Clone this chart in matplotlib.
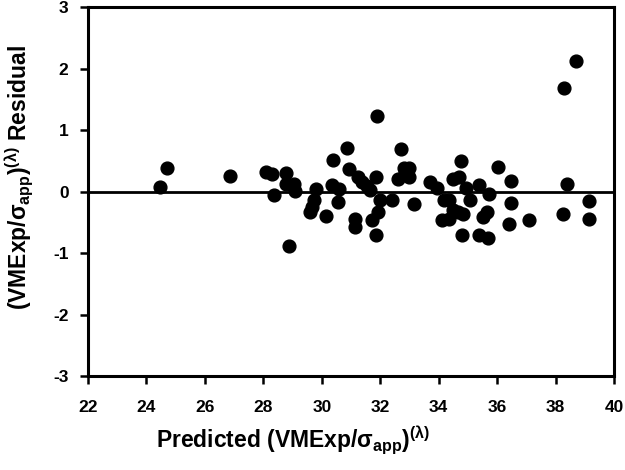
import matplotlib
matplotlib.use("Agg")
import matplotlib.pyplot as plt

plt.rcParams['font.family'] = ['Liberation Sans', 'DejaVu Sans']
plt.rcParams['font.weight'] = 'bold'
plt.rcParams['mathtext.fontset'] = 'custom'
plt.rcParams['mathtext.rm'] = 'Liberation Sans:bold'
plt.rcParams['mathtext.it'] = 'Liberation Sans:bold'
plt.rcParams['mathtext.bf'] = 'Liberation Sans:bold'

predicted = [24.48, 24.72, 26.87, 28.10, 28.28, 28.36, 28.79, 28.79, 29.04, 29.10,
             28.87, 29.79, 29.73, 29.67, 29.59, 30.15, 30.39, 30.36, 30.60, 30.55,
             30.87, 30.93, 31.24, 31.39, 31.54, 31.65, 31.12, 31.12, 31.85, 31.88,
             31.99, 31.94, 31.73, 31.87, 32.42, 32.72, 32.61, 32.80, 32.97, 32.99,
             32.85, 33.14, 33.71, 33.96, 34.19, 34.36, 34.48, 34.71, 34.76, 34.93,
             35.08, 34.48, 34.65, 34.82, 34.13, 34.36, 34.80, 35.39, 35.73, 35.67,
             35.50, 35.39, 35.70, 36.04, 36.48, 36.48, 36.40, 37.08, 38.30, 38.71,
             38.40, 38.27, 39.14, 39.14]
residual = [0.08, 0.38, 0.26, 0.32, 0.28, -0.06, 0.30, 0.13, 0.12, 0.01,
            -0.88, 0.04, -0.14, -0.25, -0.33, -0.40, 0.51, 0.11, 0.04, -0.17,
            0.71, 0.36, 0.24, 0.16, 0.09, 0.02, -0.44, -0.57, 0.23, 1.23,
            -0.14, -0.34, -0.46, -0.70, -0.13, 0.69, 0.21, 0.38, 0.38, 0.24,
            0.30, -0.20, 0.16, 0.05, -0.14, -0.14, 0.21, 0.23, 0.50, 0.05,
            -0.13, -0.30, -0.33, -0.37, -0.46, -0.45, -0.71, 0.11, -0.04, -0.33,
            -0.42, -0.71, -0.76, 0.40, 0.17, -0.18, -0.52, -0.46, 1.69, 2.13,
            0.12, -0.37, -0.16, -0.45]

xticks = [22, 24, 26, 28, 30, 32, 34, 36, 38, 40]
yticks = [-3, -2, -1, 0, 1, 2, 3]

fig = plt.figure(figsize=(6.25, 4.7), dpi=100)
ax = fig.add_axes([0.1408, 0.2, 0.8416, 0.785])

ax.axhline(0, color='black', lw=2.0, zorder=1)
ax.plot(predicted, residual, 'o', color='black', markersize=9.2, zorder=3, clip_on=False)

ax.set_xlim(22, 40)
ax.set_ylim(-3, 3)
ax.set_xticks(xticks)
ax.set_yticks(yticks)
ax.set_xticklabels([str(t) for t in xticks], fontsize=12.5, fontweight='bold')
ax.set_yticklabels([str(t) for t in yticks], fontsize=12.5, fontweight='bold')
ax.tick_params(axis='both', direction='out', length=6, width=1.8, color='black')
ax.tick_params(axis='x', pad=11)
ax.tick_params(axis='y', pad=8)
for s in ax.spines.values():
    s.set_linewidth(2.2)

ax.set_xlabel(r'Predicted (VMExp/$\sigma_{\mathrm{app}}$)$^{(\lambda)}$', fontsize=16.5, fontweight='bold')
ax.set_ylabel(r'(VMExp/$\sigma_{\mathrm{app}}$)$^{(\lambda)}$ Residual', fontsize=16.5, fontweight='bold')
ax.xaxis.set_label_coords(0.39, -0.133)
ax.yaxis.set_label_coords(-0.099, 0.538)

fig.savefig('out.png', dpi=100)
